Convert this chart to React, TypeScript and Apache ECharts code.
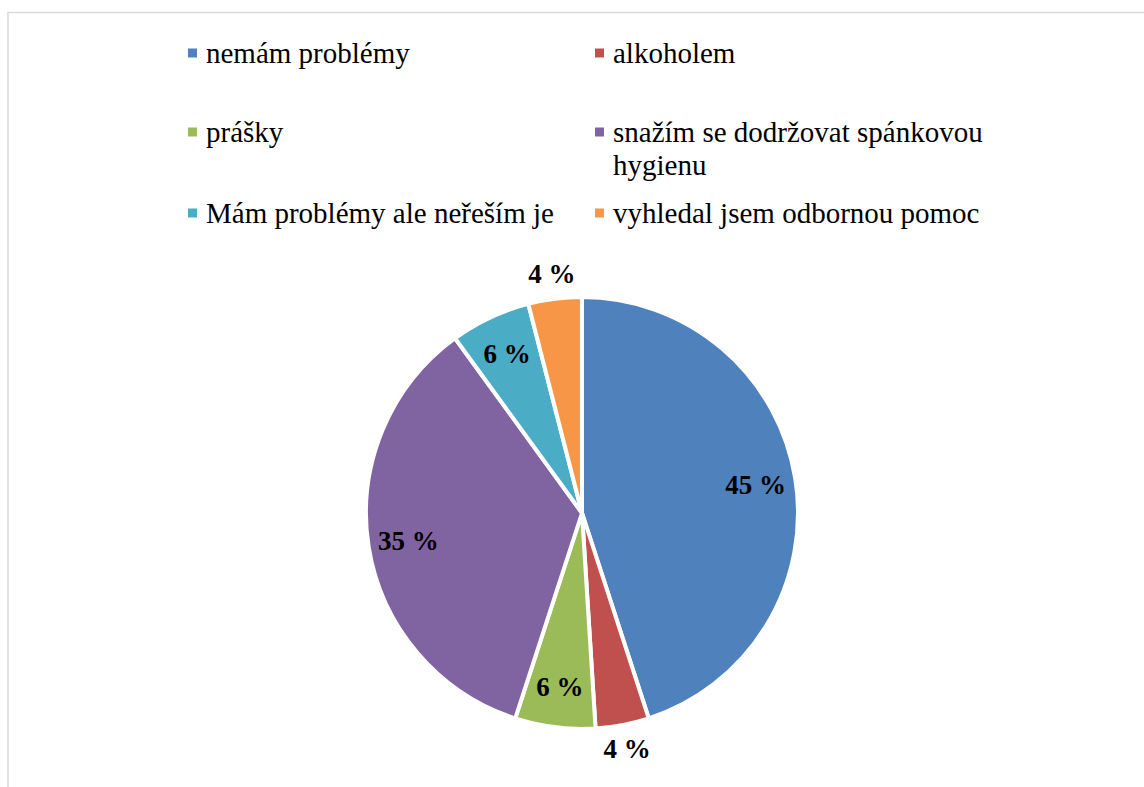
import React, { useEffect, useRef } from "react";
import * as echarts from "echarts";

const categories = [
  "nemám problémy",
  "alkoholem",
  "prášky",
  "snažím se dodržovat spánkovou hygienu",
  "Mám problémy ale neřeším je",
  "vyhledal jsem odbornou pomoc",
];
const values = [45, 4, 6, 35, 6, 4];
const colors = ["#4F81BD", "#C0504D", "#9BBB59", "#8064A2", "#4BACC6", "#F79646"];
// which labels Excel placed outside the pie
const labelOutside = [false, true, false, false, false, true];

const FONT = "Liberation Serif";
const CX = 582;
const CY = 513;
const R = 216;
const LINE_H = 33;
const ICON = 11;
const WRAP_CHARS = 30;
const LEGEND_COLS = [186, 593];
const LEGEND_ROWS = [53, 132, 213];

function wrapWords(text: string, max: number): string[] {
  const words = text.split(" ");
  const lines: string[] = [];
  let cur = "";
  for (const w of words) {
    const next = cur ? cur + " " + w : w;
    if (next.length > max && cur) {
      lines.push(cur);
      cur = w;
    } else {
      cur = next;
    }
  }
  if (cur) lines.push(cur);
  return lines;
}

export default function App() {
  const ref = useRef<HTMLDivElement>(null);

  useEffect(() => {
    if (!ref.current) return;
    const chart = echarts.init(ref.current, undefined, { renderer: "svg" });

    const legends = categories.map((name, i) => {
      const col = i % 2;
      const row = Math.floor(i / 2);
      const lines = wrapWords(name, WRAP_CHARS).length;
      let icon = "rect";
      let itemHeight = ICON;
      if (lines > 1) {
        // square aligned with the first text line
        itemHeight = ICON + LINE_H * (lines - 1);
        icon = `path://M0,0h${ICON}v${ICON}h-${ICON}z M0,${itemHeight - 0.01}h0.01v0.01h-0.01z`;
      }
      return {
        show: true,
        data: [{ name, icon }],
        formatter: (n: string) => wrapWords(n, WRAP_CHARS).join("\n"),
        left: LEGEND_COLS[col],
        top: LEGEND_ROWS[row] - LINE_H / 2,
        orient: "horizontal",
        itemWidth: ICON,
        itemHeight,
        padding: 0,
        selectedMode: false,
        textStyle: {
          fontFamily: FONT,
          fontSize: 29,
          color: "#000",
          lineHeight: LINE_H,
          padding: [0, 0, 0, 3],
        },
      };
    });

    const labelStyle = {
      fontFamily: FONT,
      fontSize: 27,
      fontWeight: "bold",
      color: "#000",
      formatter: "{c} %",
    };

    const mainData = categories.map((name, i) => ({
      name,
      value: values[i],
      itemStyle: { color: colors[i] },
    }));

    const overlayData = (outside: boolean) =>
      categories.map((name, i) => ({
        name,
        value: values[i],
        label: { show: labelOutside[i] === outside },
      }));

    chart.setOption({
      animation: false,
      backgroundColor: "#fff",
      textStyle: { fontFamily: FONT },
      graphic: [
        {
          type: "rect",
          shape: { x: 8, y: 12.5, width: 1200, height: 1000 },
          style: { fill: "none", stroke: "#d9d9d9", lineWidth: 1.5 },
          silent: true,
        },
      ],
      legend: legends,
      series: [
        {
          type: "pie",
          center: [CX, CY],
          radius: [0, R],
          startAngle: 90,
          clockwise: true,
          silent: true,
          label: { show: false },
          labelLine: { show: false },
          itemStyle: { borderColor: "#fff", borderWidth: 4 },
          emphasis: { disabled: true },
          data: mainData,
        },
        {
          type: "pie",
          center: [CX, CY],
          radius: [R * 0.6, R],
          startAngle: 90,
          clockwise: true,
          silent: true,
          itemStyle: { color: "transparent", borderWidth: 0 },
          label: { ...labelStyle, position: "inside" },
          labelLine: { show: false },
          emphasis: { disabled: true },
          data: overlayData(false),
        },
        {
          type: "pie",
          center: [CX, CY],
          radius: [R, R * 1.2],
          startAngle: 90,
          clockwise: true,
          silent: true,
          itemStyle: { color: "transparent", borderWidth: 0 },
          label: { ...labelStyle, position: "inside" },
          labelLine: { show: false },
          emphasis: { disabled: true },
          data: overlayData(true),
        },
      ],
    });

    return () => chart.dispose();
  }, []);

  return (
    <div
      ref={ref}
      style={{
        position: "fixed",
        left: 0,
        top: 0,
        width: 1144,
        height: 787,
        background: "#fff",
      }}
    />
  );
}
